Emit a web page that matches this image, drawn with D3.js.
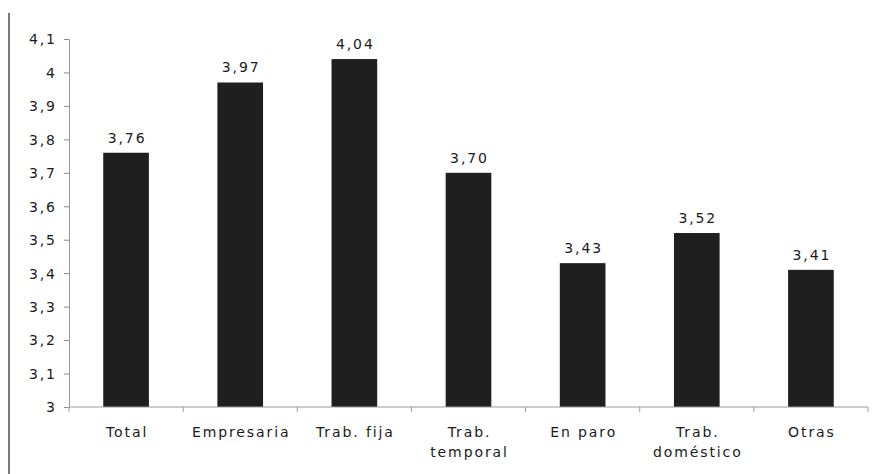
<!DOCTYPE html>
<html><head><meta charset="utf-8">
<script src="https://cdn.jsdelivr.net/npm/d3@7"></script>
<style>
body{margin:0;background:#fff;}
svg{display:block;}
text{font-family:"DejaVu Sans",Verdana,sans-serif;font-size:14px;fill:#1a1a1a;letter-spacing:1.9px;}
</style></head><body>
<svg id="c" width="873" height="474"></svg>
<script>
const categories = [["Total"],["Empresaria"],["Trab. fija"],["Trab.","temporal"],["En paro"],["Trab.","doméstico"],["Otras"]];
const values = [3.76, 3.97, 4.04, 3.70, 3.43, 3.52, 3.41];
const valueLabels = ["3,76","3,97","4,04","3,70","3,43","3,52","3,41"];
const yTicks = [3,3.1,3.2,3.3,3.4,3.5,3.6,3.7,3.8,3.9,4,4.1];

const svg = d3.select("#c");
const mLeft = 69, mRight = 868, mTop = 39, mBottom = 407;
const x = d3.scaleBand().domain(d3.range(values.length)).range([mLeft, mRight]).paddingInner(0.6).paddingOuter(0.3);
const xb = d3.scaleBand().domain(d3.range(values.length)).range([mLeft, mRight]);
const y = d3.scaleLinear().domain([3, 4.1]).range([mBottom, mTop]);
const fmt = v => d3.format(".1f")(v).replace(".", ",").replace(/,0$/, "");

// left frame line
svg.append("line").attr("x1", 9).attr("x2", 9).attr("y1", 13).attr("y2", 474)
  .attr("stroke", "#7a7a7a").attr("stroke-width", 2);

// y axis
const ya = svg.append("g").attr("transform", `translate(${mLeft},0)`)
  .call(d3.axisLeft(y).tickValues(yTicks).tickFormat(fmt).tickSize(5).tickPadding(9));
ya.attr("font-family", null).attr("font-size", null);
ya.select(".domain").attr("stroke", "#9a9a9a");
ya.selectAll(".tick line").attr("stroke", "#8a8a8a");
ya.selectAll(".tick text").attr("dy", "0.35em").attr("dx", "1.9px").attr("fill", null);

// bars
svg.selectAll("rect.bar").data(values).join("rect").attr("class", "bar")
  .attr("x", (d, i) => x(i)).attr("width", x.bandwidth())
  .attr("y", d => y(d)).attr("height", d => y(3) - y(d))
  .attr("fill", "#1f1f1f");

// x axis
svg.append("line").attr("x1", mLeft).attr("x2", mRight).attr("y1", mBottom).attr("y2", mBottom).attr("stroke", "#9a9a9a");
svg.selectAll("line.xt").data(d3.range(values.length + 1)).join("line").attr("class", "xt")
  .attr("x1", i => i < values.length ? xb(i) : mRight)
  .attr("x2", i => i < values.length ? xb(i) : mRight)
  .attr("y1", mBottom).attr("y2", mBottom + 5).attr("stroke", "#9a9a9a");

// value labels
svg.selectAll("text.val").data(values).join("text").attr("class", "val")
  .attr("x", (d, i) => x(i) + x.bandwidth() / 2 + 1).attr("y", d => y(d) - 10)
  .attr("text-anchor", "middle").text((d, i) => valueLabels[i]);

// category labels
const cl = svg.selectAll("text.cat").data(categories).join("text").attr("class", "cat")
  .attr("text-anchor", "middle");
cl.selectAll("tspan").data((d, i) => d.map(s => ({s, i}))).join("tspan")
  .attr("x", d => xb(d.i) + xb.bandwidth() / 2 + 1)
  .attr("y", (d, j) => 437 + j * 20)
  .text(d => d.s);
</script></body></html>
